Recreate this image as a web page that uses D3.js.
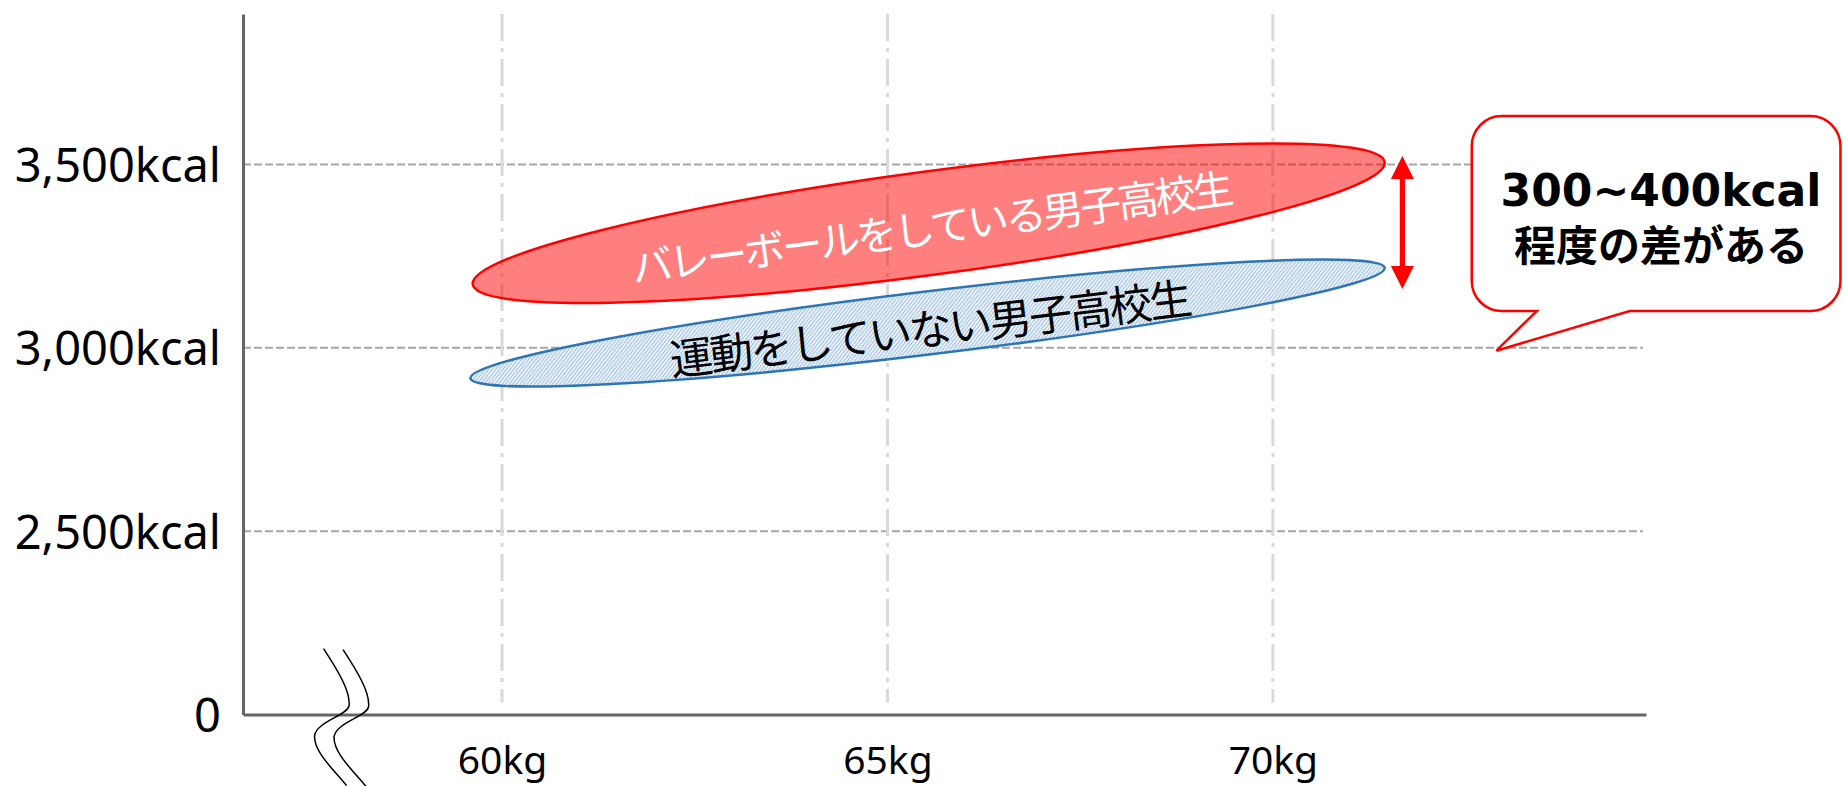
<!DOCTYPE html>
<html><head><meta charset="utf-8">
<script src="https://cdn.jsdelivr.net/npm/d3@7"></script>
<style>html,body{margin:0;padding:0;background:#fff;overflow:hidden}</style>
</head><body><svg id="chart" width="1843" height="786"></svg>
<script>
// ---- data ----
const weightTicks = [60, 65, 70];
const weightLabels = ["60kg", "65kg", "70kg"];
const kcalTicks = [2000, 2500, 3000, 3500];
const kcalLabels = ["0", "2,500kcal", "3,000kcal", "3,500kcal"];
const groupNames = ["運動をしていない男子高校生", "バレーボールをしている男子高校生"];
const weightFrom = [59.59, 59.62];
const kcalFrom = [2917, 3173];
const weightTo = [71.45, 71.45];
const kcalTo = [3218, 3506];
const kcalSpread = [86, 141];
const gapWeight = 71.68;
const gapKcal = [3523, 3160];
const calloutTip = [72.9, 2992];
const calloutLines = ["300~400kcal", "程度の差がある"];

// ---- layout ----
const svg = d3.select("#chart");
const x = d3.scaleLinear().domain([56.64, 74.84]).range([243, 1646]);
const y = d3.scaleLinear().domain([2000, 3910]).range([714.6, 14]);
const latin = "'Noto Sans', sans-serif";
const cjk = "'Noto Sans CJK JP', sans-serif";

const defs = svg.append("defs");
const pat = defs.append("pattern").attr("id", "hatch").attr("patternUnits", "userSpaceOnUse")
  .attr("width", 4).attr("height", 4);
pat.append("rect").attr("width", 4).attr("height", 4).attr("fill", "#fff");
pat.append("path").attr("d", "M-1,1 L1,-1 M0,4 L4,0 M3,5 L5,3")
  .attr("stroke", "#8db4e2").attr("stroke-width", 1.2);

// grid lines
const gridEnd = x(74.8);
svg.append("g").selectAll("line").data(kcalTicks.slice(1)).join("line")
  .attr("x1", x.range()[0]).attr("x2", gridEnd)
  .attr("y1", d => y(d)).attr("y2", d => y(d))
  .attr("stroke", "#a6a6a6").attr("stroke-width", 2).attr("stroke-dasharray", "8,3");
svg.append("g").selectAll("line").data(weightTicks).join("line")
  .attr("x1", d => x(d)).attr("x2", d => x(d))
  .attr("y1", y.range()[1]).attr("y2", y.range()[0] - 12)
  .attr("stroke", "#d9d9d9").attr("stroke-width", 3).attr("stroke-dasharray", "27,7,4,7");

// axes
const gy = svg.append("g").attr("transform", `translate(${x.range()[0]},0)`)
  .call(d3.axisLeft(y).tickValues(kcalTicks).tickFormat((d, i) => kcalLabels[i])
    .tickSize(0).tickSizeOuter(0).tickPadding(22));
gy.selectAll("text").attr("font-family", latin).attr("font-size", 47).attr("fill", "#000").attr("dy", "0.36em");
const gx = svg.append("g").attr("transform", `translate(0,${y(2000)})`)
  .call(d3.axisBottom(x).tickValues(weightTicks).tickFormat((d, i) => weightLabels[i])
    .tickSize(0).tickSizeOuter(0).tickPadding(31.5));
gx.selectAll("text").attr("font-family", latin).attr("font-size", 39).attr("fill", "#000");
[gx, gy].forEach(g => g.select(".domain").attr("stroke", "#666").attr("stroke-width", 3));

// axis break symbol
const brk = svg.append("g").attr("transform", `translate(${x(57.75)},${y(2000)})`)
  .attr("fill", "none").attr("stroke", "#000").attr("stroke-width", 1.5);
const brkPath = "M-5,-66 C10,-43 22,-23 20.5,-9 C19,1 -12,7 -14,21 C-15,37 5,55 18,71";
brk.append("path").attr("d", brkPath);
brk.append("path").attr("d", brkPath).attr("transform", "translate(19.5,1)");

// ellipses
const styles = [
  { fill: "url(#hatch)", stroke: "#2e75b6", opacity: 1, text: "#000", size: 43, ls: -2.7, dy: 3 },
  { fill: "#ff0000", stroke: "#ff0000", opacity: 0.5, text: "#fff", size: 41, ls: -3.2, dy: 2 }
];
groupNames.forEach((name, i) => {
  const x0 = x(weightFrom[i]), y0 = y(kcalFrom[i]);
  const x1 = x(weightTo[i]), y1 = y(kcalTo[i]);
  const cx = (x0 + x1) / 2, cy = (y0 + y1) / 2;
  const a = Math.hypot(x1 - x0, y1 - y0) / 2;
  const b = Math.abs(y(3000) - y(3000 + kcalSpread[i]));
  const ang = Math.atan2(y1 - y0, x1 - x0) * 180 / Math.PI;
  const st = styles[i];
  const g = svg.append("g").attr("transform", `translate(${cx},${cy}) rotate(${ang})`);
  g.append("ellipse").attr("rx", a).attr("ry", b)
    .attr("fill", st.fill).attr("fill-opacity", st.opacity)
    .attr("stroke", st.stroke).attr("stroke-width", 2.5);
  g.append("text").attr("x", -st.ls / 2).attr("y", st.dy).attr("text-anchor", "middle")
    .attr("dominant-baseline", "central").attr("font-family", cjk)
    .attr("letter-spacing", st.ls)
    .attr("font-size", st.size).attr("fill", st.text).text(name);
});

// double-headed arrow
const ax = x(gapWeight), aT = y(gapKcal[0]), aB = y(gapKcal[1]);
const hw = 11.5, hl = 23, sw = 2.6;
svg.append("path").attr("fill", "#ff0000").attr("d",
  `M${ax},${aT} L${ax + hw},${aT + hl} L${ax + sw},${aT + hl} L${ax + sw},${aB - hl} L${ax + hw},${aB - hl}
   L${ax},${aB} L${ax - hw},${aB - hl} L${ax - sw},${aB - hl} L${ax - sw},${aT + hl} L${ax - hw},${aT + hl} Z`);

// callout
const tx = x(calloutTip[0]), ty = y(calloutTip[1]);
const L = tx - 24.7, T = ty - 234.7, R = tx + 344, B = ty - 39.7, r = 30;
const b1 = tx + 40.3, b2 = tx + 133.3;
svg.append("path").attr("fill", "#fff").attr("stroke", "#ff0000").attr("stroke-width", 2.5)
  .attr("stroke-linejoin", "miter")
  .attr("d", `M${L + r},${T} H${R - r} A${r},${r} 0 0 1 ${R},${T + r} V${B - r} A${r},${r} 0 0 1 ${R - r},${B}
    H${b2} L${tx},${ty} L${b1},${B} H${L + r} A${r},${r} 0 0 1 ${L},${B - r} V${T + r} A${r},${r} 0 0 1 ${L + r},${T} Z`);
const ccx = tx + 164.5;
svg.append("text").attr("x", ccx).attr("y", ty - 144.7).attr("text-anchor", "middle")
  .attr("font-family", "'DejaVu Sans', sans-serif").attr("font-weight", "bold").attr("font-size", 44)
  .attr("fill", "#000").text(calloutLines[0]);
svg.append("text").attr("x", ccx).attr("y", ty - 108.2).attr("text-anchor", "middle")
  .attr("dominant-baseline", "central")
  .attr("font-family", cjk).attr("font-weight", "bold").attr("font-size", 42)
  .attr("fill", "#000").text(calloutLines[1]);
</script></body></html>
